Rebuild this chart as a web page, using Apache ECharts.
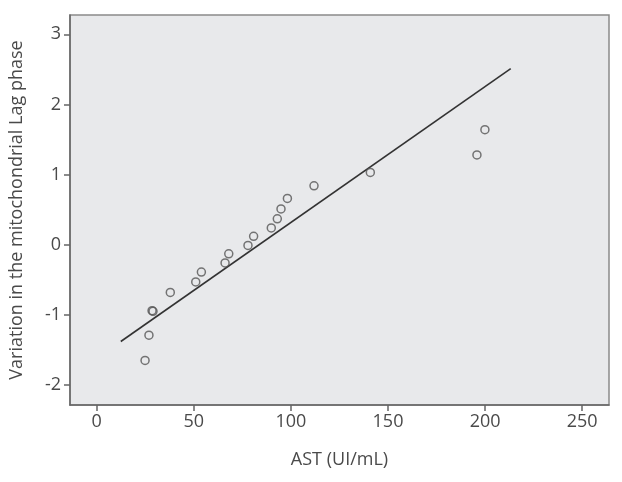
<!DOCTYPE html>
<html>
<head>
<meta charset="utf-8">
<script src="https://cdn.jsdelivr.net/npm/echarts@6/dist/echarts.min.js"></script>
<style>
  html, body { margin: 0; padding: 0; background: #fff; }
  #main { width: 622px; height: 482px; }
</style>
</head>
<body>
<div id="main"></div>
<script>
var astValues = [24.9, 26.9, 28.5, 29.0, 37.9, 51.0, 53.9, 66.1, 68.0, 77.9, 80.8, 89.9, 93.0, 94.9, 98.2, 111.9, 140.9, 195.8, 199.9];
var lagValues = [-1.65, -1.29, -0.94, -0.95, -0.68, -0.53, -0.39, -0.26, -0.13, -0.01, 0.12, 0.24, 0.37, 0.51, 0.66, 0.84, 1.03, 1.28, 1.64];

// fitted line end points
var fitX = [12.4, 213.2];
var fitY = [-1.38, 2.51];

var xTicks = [0, 50, 100, 150, 200, 250];
var yTicks = [-2, -1, 0, 1, 2, 3];

var myChart = echarts.init(document.getElementById('main'));

var points = [];
for (var i = 0; i < astValues.length; i++) {
  points.push([astValues[i], lagValues[i]]);
}
var fitLine = [];
for (var j = 0; j < fitX.length; j++) {
  fitLine.push([fitX[j], fitY[j]]);
}

var axisColor = '#666';
var textColor = '#4a4a4a';
var fontName = 'Open Sans';

myChart.setOption({
  animation: false,
  grid: {
    left: 70,
    top: 15,
    right: 13,
    bottom: 77,
    show: true,
    backgroundColor: '#e8e9eb',
    borderColor: '#8a8a8a',
    borderWidth: 1.5
  },
  xAxis: {
    type: 'value',
    min: -13.75,
    max: 263.8,
    name: 'AST (UI/mL)',
    nameLocation: 'middle',
    nameGap: 46,
    nameTextStyle: { color: textColor, fontSize: 18, fontFamily: fontName },
    axisLine: { show: true, onZero: false, lineStyle: { color: axisColor, width: 1.5 } },
    axisTick: { show: true, length: 6, customValues: xTicks, lineStyle: { color: axisColor, width: 1.5 } },
    axisLabel: { customValues: xTicks, color: textColor, fontSize: 18, fontFamily: fontName, margin: 8 },
    splitLine: { show: false }
  },
  yAxis: {
    type: 'value',
    min: -2.285,
    max: 3.275,
    name: 'Variation in the mitochondrial Lag phase',
    nameLocation: 'middle',
    nameGap: 44,
    nameTextStyle: { color: textColor, fontSize: 18, fontFamily: fontName },
    axisLine: { show: true, onZero: false, lineStyle: { color: axisColor, width: 1.5 } },
    axisTick: { show: true, length: 6, customValues: yTicks, lineStyle: { color: axisColor, width: 1.5 } },
    axisLabel: { customValues: yTicks, color: textColor, fontSize: 18, fontFamily: fontName, margin: 9 },
    splitLine: { show: false }
  },
  series: [
    {
      type: 'line',
      data: fitLine,
      symbol: 'none',
      lineStyle: { color: '#333', width: 1.6 },
      z: 2
    },
    {
      type: 'scatter',
      data: points,
      symbol: 'circle',
      symbolSize: 8,
      itemStyle: { color: 'transparent', borderColor: '#555', borderWidth: 1.5 },
      z: 3
    }
  ]
});
</script>
</body>
</html>
